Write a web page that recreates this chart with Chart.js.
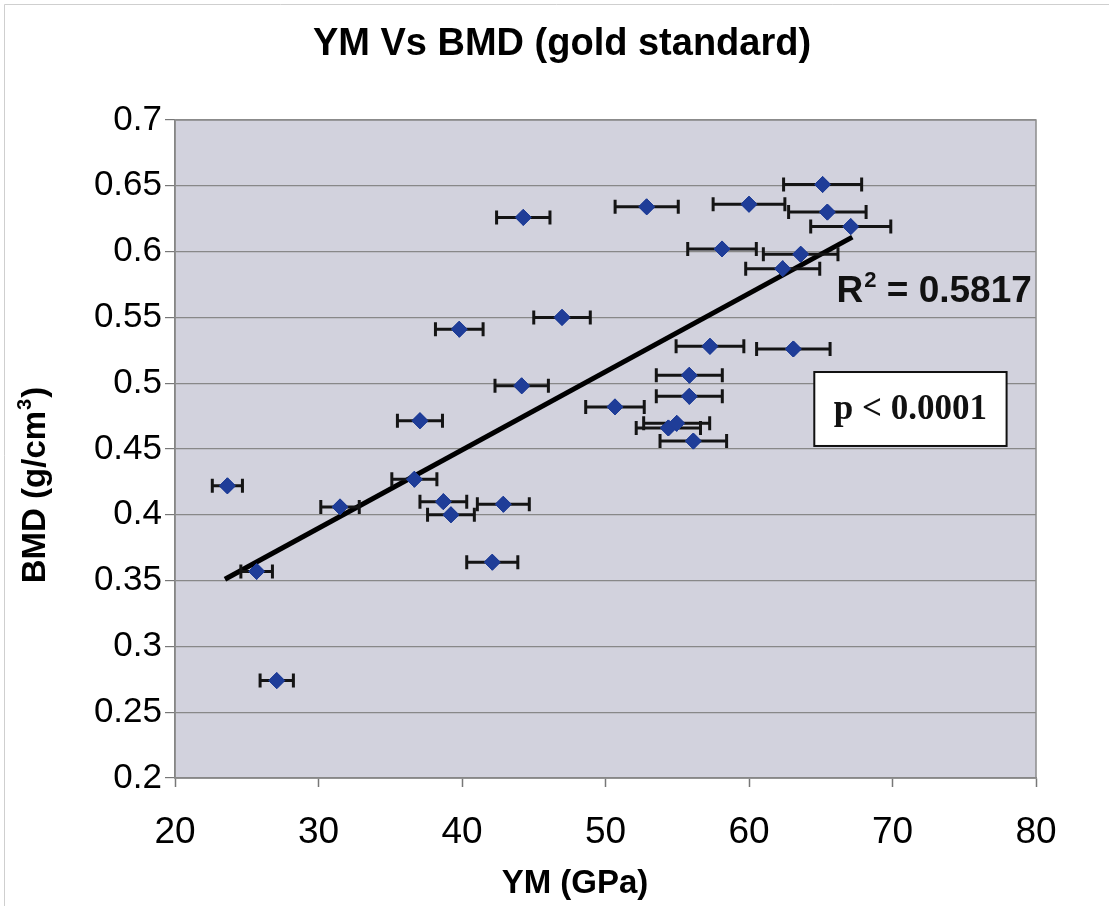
<!DOCTYPE html>
<html><head><meta charset="utf-8">
<script src="https://cdn.jsdelivr.net/npm/chart.js@4.4.1/dist/chart.umd.min.js"></script>
<style>html,body{margin:0;padding:0;background:#fff;}#wrap{width:1109px;height:906px;position:relative;}</style>
</head><body><div id="wrap"><canvas id="c" width="1109" height="906"></canvas></div>
<script>
// ---- data ----
const ymValues  = [23.65, 25.69, 27.09, 31.5, 36.68, 37.07, 38.7, 39.23, 39.81, 42.11, 42.88, 44.16, 44.27, 46.97, 50.66,
                   52.87, 54.38, 54.96, 55.84, 55.84, 56.12, 57.28, 58.12, 60.0, 62.35, 63.09, 63.6, 65.13, 65.46, 67.09];
const bmdValues = [0.422, 0.357, 0.274, 0.406, 0.427, 0.4715, 0.410, 0.400, 0.541, 0.364, 0.408, 0.498, 0.626, 0.550, 0.482,
                   0.634, 0.466, 0.4695, 0.506, 0.490, 0.456, 0.528, 0.602, 0.636, 0.587, 0.526, 0.598, 0.651, 0.630, 0.619];
const ymErrors  = [1.05, 1.1, 1.16, 1.34, 1.57, 1.57, 1.63, 1.63, 1.66, 1.78, 1.81, 1.86, 1.86, 1.97, 2.04,
                   2.2, 2.24, 2.3, 2.3, 2.3, 2.32, 2.36, 2.39, 2.5, 2.58, 2.56, 2.6, 2.72, 2.7, 2.79];
const trendYM  = [23.48, 67.2];
const trendBMD = [0.351, 0.611];
const xTickValues = [20, 30, 40, 50, 60, 70, 80];
const yTickValues = [0.2, 0.25, 0.3, 0.35, 0.4, 0.45, 0.5, 0.55, 0.6, 0.65, 0.7];
const chartTitle = 'YM Vs BMD (gold standard)';
const xTitle = 'YM (GPa)';
const yTitleMain = 'BMD (g/cm';
const yTitleSup = '3';
const yTitleEnd = ')';
const r2Label = '0.5817';
const pLabel = 'p < 0.0001';

const SANS = "'Liberation Sans', Arial, sans-serif";
const SERIF = "'Liberation Serif', 'Times New Roman', serif";

const scatterData = ymValues.map((x, i) => ({x: x, y: bmdValues[i]}));
const trendData = trendYM.map((x, i) => ({x: x, y: trendBMD[i]}));

const decorPlugin = {
  id: 'decor',
  beforeDraw(chart) {
    const {ctx, chartArea: a} = chart;
    ctx.save();
    ctx.fillStyle = '#ffffff';
    ctx.fillRect(0, 0, chart.width, chart.height);
    ctx.strokeStyle = '#cfcfcf';
    ctx.lineWidth = 1;
    ctx.beginPath();
    ctx.moveTo(4.5, chart.height); ctx.lineTo(4.5, 4.5); ctx.lineTo(chart.width, 4.5);
    ctx.stroke();
    ctx.fillStyle = '#d2d2dd';
    ctx.fillRect(a.left, a.top, a.right - a.left, a.bottom - a.top);
    ctx.restore();
  },
  afterDraw(chart) {
    const {ctx, chartArea: a, scales} = chart;
    const xs = scales.x, ys = scales.y;
    ctx.save();
    ctx.strokeStyle = '#8c8c8c';
    ctx.lineWidth = 1.5;
    ctx.strokeRect(a.left, a.top, a.right - a.left, a.bottom - a.top);

    // x-axis title
    ctx.fillStyle = '#000';
    ctx.font = 'bold 33px ' + SANS;
    ctx.textAlign = 'center';
    ctx.textBaseline = 'alphabetic';
    ctx.fillText(xTitle, 575, 893);

    // y-axis title (rotated, with superscript)
    ctx.save();
    ctx.translate(45, 485);
    ctx.rotate(-Math.PI / 2);
    ctx.font = 'bold 33px ' + SANS;
    const w1 = ctx.measureText(yTitleMain).width;
    ctx.font = 'bold 20px ' + SANS;
    const w2 = ctx.measureText(yTitleSup).width;
    ctx.font = 'bold 33px ' + SANS;
    const w3 = ctx.measureText(yTitleEnd).width;
    const tot = w1 + w2 + w3 + 2;
    let sx = -tot / 2;
    ctx.textAlign = 'left';
    ctx.fillText(yTitleMain, sx, 0);
    ctx.font = 'bold 20px ' + SANS;
    ctx.fillText(yTitleSup, sx + w1 + 1, -14);
    ctx.font = 'bold 33px ' + SANS;
    ctx.fillText(yTitleEnd, sx + w1 + w2 + 2, 0);
    ctx.restore();

    // R^2 label
    const rx = xs.getPixelForValue(66.1), ry = ys.getPixelForValue(0.5617);
    ctx.fillStyle = '#111';
    ctx.textBaseline = 'alphabetic';
    ctx.textAlign = 'left';
    ctx.font = 'bold 37px ' + SANS;
    ctx.fillText('R', rx, ry);
    const rw = ctx.measureText('R').width;
    ctx.font = 'bold 22px ' + SANS;
    ctx.fillText('2', rx + rw + 1, ry - 15);
    const sw = ctx.measureText('2').width;
    ctx.font = 'bold 37px ' + SANS;
    ctx.fillText(' = ' + r2Label, rx + rw + sw + 1, ry);

    // p-value box
    const bx1 = xs.getPixelForValue(64.55), bx2 = xs.getPixelForValue(77.95);
    const by1 = ys.getPixelForValue(0.5085), by2 = ys.getPixelForValue(0.4523);
    ctx.fillStyle = '#ffffff';
    ctx.fillRect(bx1, by1, bx2 - bx1, by2 - by1);
    ctx.strokeStyle = '#111';
    ctx.lineWidth = 2;
    ctx.strokeRect(bx1, by1, bx2 - bx1, by2 - by1);
    ctx.fillStyle = '#111';
    ctx.font = 'bold 35px ' + SERIF;
    ctx.textAlign = 'center';
    ctx.textBaseline = 'middle';
    ctx.fillText(pLabel, (bx1 + bx2) / 2, (by1 + by2) / 2 + 1);
    ctx.restore();
  }
};

const errorBarPlugin = {
  id: 'errbars',
  afterDatasetsDraw(chart) {
    const {ctx, scales} = chart;
    const xs = scales.x, ys = scales.y;
    ctx.save();
    ctx.strokeStyle = '#141414';
    ctx.lineWidth = 3;
    ymValues.forEach((x, i) => {
      const y = ys.getPixelForValue(bmdValues[i]);
      const x1 = xs.getPixelForValue(x - ymErrors[i]);
      const x2 = xs.getPixelForValue(x + ymErrors[i]);
      ctx.beginPath();
      ctx.moveTo(x1, y); ctx.lineTo(x2, y);
      ctx.moveTo(x1, y - 7); ctx.lineTo(x1, y + 7);
      ctx.moveTo(x2, y - 7); ctx.lineTo(x2, y + 7);
      ctx.stroke();
    });
    const meta = chart.getDatasetMeta(0);
    meta.data.forEach(el => el.draw(ctx));
    ctx.restore();
  }
};

new Chart(document.getElementById('c'), {
  type: 'scatter',
  data: {
    datasets: [
      {
        label: 'Samples',
        data: scatterData,
        pointStyle: 'rectRot',
        pointRadius: 8,
        pointHoverRadius: 8,
        backgroundColor: '#1f3d98',
        borderColor: '#1f3d98',
        borderWidth: 1,
        order: 2
      },
      {
        label: 'Linear fit',
        type: 'line',
        data: trendData,
        borderColor: '#000',
        borderWidth: 5,
        pointRadius: 0,
        fill: false,
        order: 1
      }
    ]
  },
  options: {
    responsive: false,
    animation: false,
    devicePixelRatio: 1,
    events: [],
    layout: {padding: {top: 8, left: 88, right: 73, bottom: 10}},
    plugins: {
      legend: {display: false},
      tooltip: {enabled: false},
      title: {
        display: true,
        text: chartTitle,
        color: '#000',
        font: {family: SANS, size: 38, weight: 'bold', lineHeight: 1.2},
        padding: {top: 14, bottom: 52.4}
      }
    },
    scales: {
      x: {
        type: 'linear',
        min: 20, max: 80,
        afterBuildTicks: s => { s.ticks = xTickValues.map(v => ({value: v})); },
        afterFit: s => { s.height = 118; },
        grid: {drawOnChartArea: false, drawTicks: true, tickLength: 9, color: '#777', tickWidth: 1.5},
        border: {display: true, color: '#777', width: 1.5},
        ticks: {color: '#000', font: {family: SANS, size: 37}, padding: 24, maxRotation: 0},
        title: {display: false}
      },
      y: {
        type: 'linear',
        min: 0.2, max: 0.7,
        afterBuildTicks: s => { s.ticks = yTickValues.map(v => ({value: v})); },
        afterFit: s => { s.width = 87; },
        grid: {drawOnChartArea: true, drawTicks: true, tickLength: 10, color: '#888', lineWidth: 1.2, tickColor: '#777'},
        border: {display: true, color: '#777', width: 1.5},
        ticks: {color: '#000', font: {family: SANS, size: 35}, padding: 3,
                callback: v => String(parseFloat(Number(v).toFixed(2)))},
        title: {display: false}
      }
    }
  },
  plugins: [decorPlugin, errorBarPlugin]
});
</script>
</body></html>
